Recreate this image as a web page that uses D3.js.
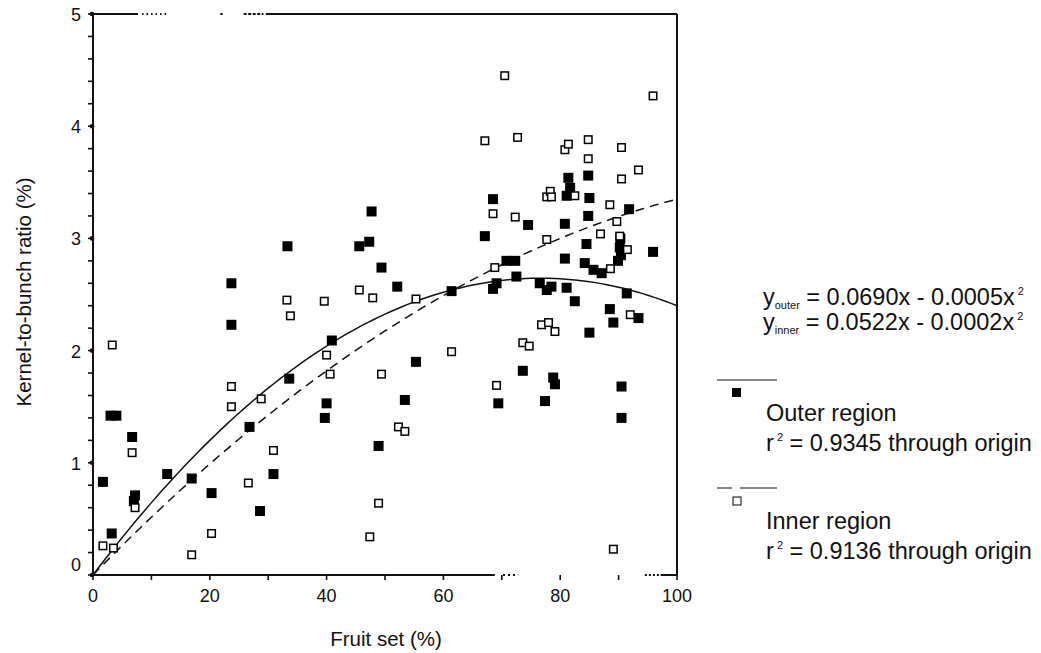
<!DOCTYPE html>
<html><head><meta charset="utf-8">
<script src="https://cdn.jsdelivr.net/npm/d3@7"></script>
<style>body{margin:0;background:#fff}svg{display:block}text{font-family:"Liberation Sans",Arial,sans-serif;fill:#111}</style>
</head><body>
<script>
// ---- data ----
const outerX = [1.7,3.2,3.0,4.0,6.7,7.2,7.0,12.7,16.9,20.3,23.7,23.7,26.8,28.6,30.9,33.3,33.6,39.7,40.0,40.9,45.6,47.3,47.7,48.9,49.4,52.1,53.4,55.3,61.4,67.1,68.5,69.1,68.5,69.4,70.8,72.3,72.5,73.6,74.5,76.5,77.4,77.7,78.5,78.8,79.1,80.8,80.8,81.1,81.4,81.7,81.1,82.5,84.2,84.5,84.8,85.0,84.8,85.0,85.7,87.1,88.5,89.1,89.9,90.2,90.4,90.3,90.5,90.5,91.4,91.8,93.4,95.9];
const outerY = [0.83,0.37,1.42,1.42,1.23,0.71,0.66,0.90,0.86,0.73,2.60,2.23,1.32,0.57,0.90,2.93,1.75,1.40,1.53,2.09,2.93,2.97,3.24,1.15,2.74,2.57,1.56,1.90,2.53,3.02,3.35,2.60,2.55,1.53,2.80,2.80,2.66,1.82,3.12,2.60,1.55,2.54,2.57,1.76,1.70,3.13,2.82,2.56,3.54,3.45,3.38,2.44,2.78,2.95,3.56,3.36,3.20,2.16,2.72,2.69,2.37,2.25,2.80,2.92,2.85,3.00,1.68,1.40,2.51,3.26,2.29,2.88];
const innerX = [3.3,6.7,7.2,1.7,3.5,16.9,20.3,23.7,23.7,26.6,28.8,30.9,33.2,33.8,39.6,40.0,40.6,45.6,47.9,47.4,48.9,49.4,52.3,53.4,55.3,61.4,67.1,68.5,68.8,69.1,70.5,72.3,72.7,73.6,74.7,76.8,78.0,79.1,77.7,77.7,78.3,78.5,80.8,81.4,82.5,84.8,84.8,86.9,88.5,88.6,89.1,89.7,90.2,90.5,90.5,91.5,92.0,93.4,95.9];
const innerY = [2.05,1.09,0.60,0.26,0.24,0.18,0.37,1.68,1.50,0.82,1.57,1.11,2.45,2.31,2.44,1.96,1.79,2.54,2.47,0.34,0.64,1.79,1.32,1.28,2.46,1.99,3.87,3.22,2.74,1.69,4.45,3.19,3.90,2.07,2.04,2.23,2.25,2.17,2.99,3.37,3.42,3.37,3.79,3.84,3.38,3.88,3.71,3.04,3.30,2.73,0.23,3.15,3.02,3.81,3.53,2.90,2.32,3.61,4.27];
// fitted curves as drawn (quadratic through origin: a*x + b*x^2)
const outerCoef = [0.0690, -0.00045];
const innerCoef = [0.0535, -0.00020];
const xTicks = [0,20,40,60,80,100];
const yTicks = [0,1,2,3,4,5];
const xTitle = "Fruit set (%)";
const yTitle = "Kernel-to-bunch ratio (%)";

// ---- chart ----
const W = 1041, H = 653;
const svg = d3.select("body").append("svg").attr("width", W).attr("height", H);
const x = d3.scaleLinear().domain([0,100]).range([93,677]);
const y = d3.scaleLinear().domain([0,5]).range([575,14]);

// frame (broken like the scan)
const g = svg.append("g").attr("stroke","#111").attr("fill","none");
g.append("line").attr("x1",x(0)).attr("x2",x(0)).attr("y1",y(0)).attr("y2",y(5)).attr("stroke-width",2);
g.append("line").attr("x1",x(100)).attr("x2",x(100)).attr("y1",y(0)).attr("y2",y(5)).attr("stroke-width",2);
const topSegs = [[0,7.7,null],[8.4,12.8,"1.5,3"],[21.8,22.2,null],[25.8,29.2,"3,1.5"],[29.6,100,null]];
topSegs.forEach(s=>{ g.append("line").attr("x1",x(s[0])).attr("x2",x(s[1])).attr("y1",y(5)).attr("y2",y(5)).attr("stroke-width",2).attr("stroke-dasharray",s[2]); });
const botSegs = [[0,68.8,null],[70.2,72.8,"2,3"],[94.5,97.2,"2,2"],[97.2,100,null]];
botSegs.forEach(s=>{ g.append("line").attr("x1",x(s[0])).attr("x2",x(s[1])).attr("y1",y(0)).attr("y2",y(0)).attr("stroke-width",2).attr("stroke-dasharray",s[2]); });

// y ticks: minor every 0.2 pointing left
const yMinor = d3.range(0,5.01,0.2);
g.selectAll(".ym").data(yMinor).join("line").attr("x1",x(0)-5).attr("x2",x(0)).attr("y1",d=>y(d)).attr("y2",d=>y(d)).attr("stroke-width",1.6);
svg.selectAll(".ymaj").data(yTicks).join("circle").attr("cx",x(0)-1).attr("cy",d=>y(d)).attr("r",2.3).attr("fill","#111");
// x ticks every 10 pointing down
const xMinor = d3.range(0,100.1,10);
g.selectAll(".xm").data(xMinor).join("line").attr("x1",d=>x(d)).attr("x2",d=>x(d)).attr("y1",y(0)).attr("y2",y(0)+5).attr("stroke-width",1.6);

svg.selectAll(".yl").data(yTicks).join("text").attr("x",81).attr("y",d=>y(d)+(d===0?-4:7)).attr("text-anchor","end").attr("font-size",18).attr("fill","#333").text(d=>d);
svg.selectAll(".xl").data(xTicks).join("text").attr("x",d=>x(d)).attr("y",y(0)+27).attr("text-anchor","middle").attr("font-size",18).attr("fill","#333").text(d=>d);

svg.append("text").attr("x",386).attr("y",646).attr("text-anchor","middle").attr("font-size",20.5).text(xTitle);
svg.append("text").attr("transform","translate(31,292) rotate(-90)").attr("text-anchor","middle").attr("font-size",20.5).text(yTitle);

// curves
const xs = d3.range(0,100.01,1);
const line = d3.line().x(d=>x(d[0])).y(d=>y(d[1]));
svg.append("path").datum(xs.map(v=>[v, outerCoef[0]*v + outerCoef[1]*v*v])).attr("d",line).attr("fill","none").attr("stroke","#111").attr("stroke-width",1.5);
svg.append("path").datum(xs.map(v=>[v, innerCoef[0]*v + innerCoef[1]*v*v])).attr("d",line).attr("fill","none").attr("stroke","#111").attr("stroke-width",1.5).attr("stroke-dasharray","9,6");

// points
const fs = 10, os = 9;
svg.selectAll(".op").data(d3.zip(outerX,outerY)).join("rect")
  .attr("x",d=>x(d[0])-fs/2).attr("y",d=>y(d[1])-fs/2).attr("width",fs).attr("height",fs).attr("fill","#000");
svg.selectAll(".ip").data(d3.zip(innerX,innerY)).join("rect")
  .attr("x",d=>x(d[0])-os/2+0.75).attr("y",d=>y(d[1])-os/2+0.75).attr("width",os-1.5).attr("height",os-1.5).attr("fill","#fff").attr("stroke","#000").attr("stroke-width",1.5);

// legend
const FS = 23.5, SS = 11;
const L = svg.append("g");
function eq(yb, name, body){
  const t = L.append("text").attr("x",763).attr("y",yb).attr("font-size",FS);
  t.append("tspan").text("y");
  t.append("tspan").attr("font-size",SS).attr("dy",4).text(name);
  t.append("tspan").attr("dy",-4).text(body);
  t.append("tspan").attr("font-size",SS).attr("dy",-10).text(" 2");
}
eq(305,"outer"," = 0.0690x - 0.0005x");
eq(330,"inner"," =  0.0522x - 0.0002x");
function rsq(yb, val){
  const r = L.append("text").attr("x",766).attr("y",yb).attr("font-size",FS);
  r.append("tspan").text("r");
  r.append("tspan").attr("font-size",SS).attr("dy",-10).text(" 2");
  r.append("tspan").attr("dy",10).text(" = " + val + " through origin");
}
L.append("line").attr("x1",717).attr("x2",777).attr("y1",380).attr("y2",380).attr("stroke","#111").attr("stroke-width",1.2);
L.append("rect").attr("x",732).attr("y",388).attr("width",9).attr("height",9).attr("fill","#000");
L.append("text").attr("x",766).attr("y",421).attr("font-size",FS).text("Outer region");
rsq(451, "0.9345");
L.append("line").attr("x1",717).attr("x2",777).attr("y1",488).attr("y2",488).attr("stroke","#111").attr("stroke-width",1.2).attr("stroke-dasharray","15,8,40");
L.append("rect").attr("x",733).attr("y",497).attr("width",8).attr("height",8).attr("fill","#fff").attr("stroke","#000").attr("stroke-width",1);
L.append("text").attr("x",766).attr("y",529).attr("font-size",FS).text("Inner region");
rsq(559, "0.9136");
</script>
</body></html>
